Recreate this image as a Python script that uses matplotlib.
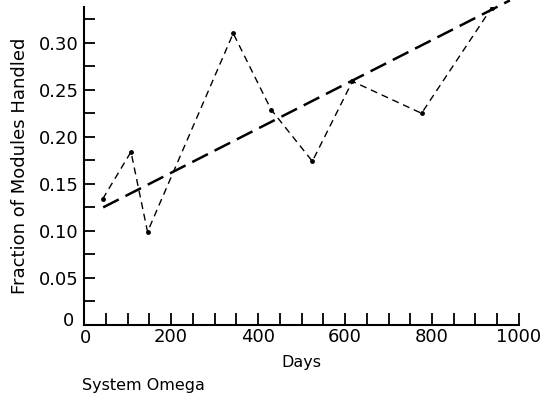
import numpy as np
import matplotlib.pyplot as plt
import matplotlib.transforms as mtransforms
from matplotlib.ticker import FixedLocator, FixedFormatter

# System Omega: fraction of modules handled over time
days = [43, 108, 146, 343, 430, 525, 617, 776, 937]
fraction = [0.134, 0.184, 0.099, 0.310, 0.229, 0.174, 0.259, 0.225, 0.337]

# fitted trend line end points
trend_days = [44, 979]
trend_fraction = [0.125, 0.345]

x_major = [0, 200, 400, 600, 800, 1000]
x_labels = ["0", "200", "400", "600", "800", "1000"]
y_major = [0.0, 0.05, 0.10, 0.15, 0.20, 0.25, 0.30]
y_labels = ["0", "0.05", "0.10", "0.15", "0.20", "0.25", "0.30"]

plt.rcParams["font.family"] = ["DejaVu Sans"]

fig = plt.figure(figsize=(5.47, 3.97), dpi=100)
ax = fig.add_axes([0.1536, 0.1814, 0.7952, 0.801])

ax.plot(days, fraction, color="black", linewidth=1.0, dashes=(5, 3.5),
        marker="o", markersize=3.5, markeredgewidth=0)
ax.plot(trend_days, trend_fraction, color="black", linewidth=1.8,
        dashes=(7, 3), clip_on=False)

ax.set_xlim(0, 1000)
ax.set_ylim(0, 0.338)

for side in ("top", "right"):
    ax.spines[side].set_visible(False)
for side in ("left", "bottom"):
    ax.spines[side].set_linewidth(1.5)

ax.xaxis.set_major_locator(FixedLocator(x_major))
ax.xaxis.set_major_formatter(FixedFormatter(x_labels))
ax.xaxis.set_minor_locator(FixedLocator(np.arange(50, 1001, 50)))
ax.yaxis.set_major_locator(FixedLocator(y_major))
ax.yaxis.set_major_formatter(FixedFormatter(y_labels))
ax.yaxis.set_minor_locator(FixedLocator(np.arange(0.025, 0.33, 0.05)))

ax.tick_params(which="both", direction="in", width=1.3, labelsize=13)
ax.tick_params(axis="x", which="both", length=9, pad=2)
ax.tick_params(axis="y", which="both", length=8, pad=4)

# nudge the two zero labels apart at the origin
fig.canvas.draw()
ax.get_yticklabels()[0].set_transform(
    ax.get_yticklabels()[0].get_transform()
    + mtransforms.ScaledTranslation(-3 / 72, 4 / 72, fig.dpi_scale_trans))
ax.get_xticklabels()[0].set_transform(
    ax.get_xticklabels()[0].get_transform()
    + mtransforms.ScaledTranslation(1 / 72, -1 / 72, fig.dpi_scale_trans))

ax.set_xlabel("Days", fontsize=11.5, labelpad=6)
ax.set_ylabel("Fraction of Modules Handled", fontsize=13, labelpad=7)
fig.text(0.15, 0.03, "System Omega", fontsize=11.5, ha="left", va="center")

fig.savefig("out.png", dpi=100)
